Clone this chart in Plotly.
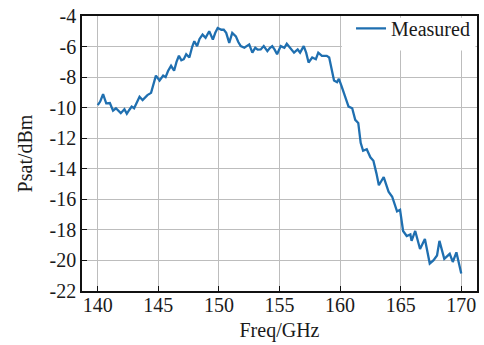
import plotly.graph_objects as go

freq = [140.0, 140.2, 140.44, 140.7, 141.0, 141.26, 141.5, 141.7, 141.9, 142.2, 142.4, 142.6, 142.8, 143.0,
        143.2, 143.45, 143.7, 143.9, 144.1, 144.4, 144.6, 144.8, 145.1, 145.4, 145.6, 145.8, 146.05, 146.3,
        146.5, 146.7, 146.9, 147.1, 147.3, 147.56, 147.8, 147.97, 148.2, 148.4, 148.65, 148.9, 149.2, 149.5,
        149.7, 149.9, 150.2, 150.4, 150.6, 150.85, 151.1, 151.4, 151.6, 151.8, 152.1, 152.5, 152.76, 153.0,
        153.2, 153.45, 153.7, 154.0, 154.2, 154.4, 154.6, 154.8, 155.1, 155.4, 155.6, 155.9, 156.2, 156.5,
        156.7, 157.0, 157.2, 157.4, 157.7, 158.0, 158.2, 158.5, 158.9, 159.1, 159.3, 159.5, 159.75, 159.9,
        160.1, 160.4, 160.7, 161.0, 161.25, 161.5, 161.7, 161.9, 162.2, 162.5, 162.75, 163.0, 163.2, 163.6,
        164.0, 164.3, 164.7, 164.95, 165.2, 165.5, 165.8, 165.9, 166.2, 166.6, 167.0, 167.4, 167.7, 168.0,
        168.2, 168.6, 169.05, 169.3, 169.6, 170.0]
psat = [-9.83, -9.6, -9.12, -9.72, -9.7, -10.2, -10.04, -10.2, -10.36, -10.1, -10.4, -10.15, -9.93, -10.04,
        -9.7, -9.29, -9.5, -9.35, -9.18, -9.03, -8.5, -7.9, -8.22, -7.9, -8.0, -7.6, -7.26, -7.58,
        -7.0, -6.6, -6.9, -6.83, -6.5, -6.72, -6.0, -5.65, -5.97, -5.5, -5.22, -5.43, -5.0, -5.54,
        -5.1, -4.79, -4.9, -4.9, -5.1, -5.76, -5.1, -5.33, -5.7, -5.97, -6.08, -5.86, -6.4, -6.08,
        -6.2, -6.19, -5.97, -6.3, -6.1, -5.97, -6.2, -6.5, -5.97, -6.08, -5.82, -6.08, -6.4, -6.19,
        -6.4, -5.97, -6.4, -7.04, -6.72, -6.83, -6.4, -6.61, -6.61, -6.72, -7.58, -8.22, -8.33, -8.11,
        -8.54, -9.29, -9.93, -10.04, -10.8, -11.0, -12.3, -12.82, -12.72, -13.25, -13.47, -14.3, -15.08, -14.54,
        -15.5, -15.83, -16.79, -16.68, -18.07, -18.4, -18.3, -18.72, -18.07, -19.25, -18.6, -20.2, -20.0, -19.68,
        -18.72, -19.9, -19.57, -20.1, -19.47, -20.86]

x_ticks = [140, 145, 150, 155, 160, 165, 170]
y_ticks = [-4, -6, -8, -10, -12, -14, -16, -18, -20, -22]

font = "Liberation Serif, Times New Roman, serif"

fig = go.Figure()
fig.add_trace(go.Scatter(x=freq, y=psat, mode="lines", name="Measured",
                         line=dict(color="#1f6fb0", width=2.3)))

# white backdrop behind the legend (kept inside the frame so the top border stays visible)
fig.add_shape(type="rect", xref="paper", yref="paper", x0=0.658, x1=0.996, y0=0.875, y1=0.994,
              fillcolor="white", line=dict(width=0), layer="above")

fig.update_layout(
    width=484, height=345,
    margin=dict(l=82, r=5, t=11, b=54),
    paper_bgcolor="white", plot_bgcolor="white",
    font=dict(family=font, size=20, color="#1a1a1a"),
    showlegend=True,
    legend=dict(x=0.995, y=1.026, xanchor="right", yanchor="top", itemwidth=30,
                bgcolor="rgba(0,0,0,0)", borderwidth=0, font=dict(size=20, family=font)),
    xaxis=dict(range=[138.7, 171.3], tickvals=x_ticks, ticktext=[str(v) for v in x_ticks],
               showgrid=True, gridcolor="#bdbdbd", gridwidth=1,
               showline=True, linecolor="#111111", linewidth=1.6, mirror=True,
               ticks="inside", ticklen=5, tickcolor="#111111", zeroline=False,
               ticklabelstandoff=-5,
               title=dict(text="Freq/GHz", font=dict(size=20, family=font), standoff=8),
               tickfont=dict(size=20, family=font)),
    yaxis=dict(range=[-22, -4], tickvals=y_ticks, ticktext=[str(v) for v in y_ticks],
               showgrid=True, gridcolor="#bdbdbd", gridwidth=1,
               showline=True, linecolor="#111111", linewidth=1.6, mirror=True,
               ticks="inside", ticklen=5, tickcolor="#111111", zeroline=False,
               title=dict(text="Psat/dBm", font=dict(size=20, family=font), standoff=12),
               tickfont=dict(size=20, family=font)),
)

fig.write_html("out.html")
